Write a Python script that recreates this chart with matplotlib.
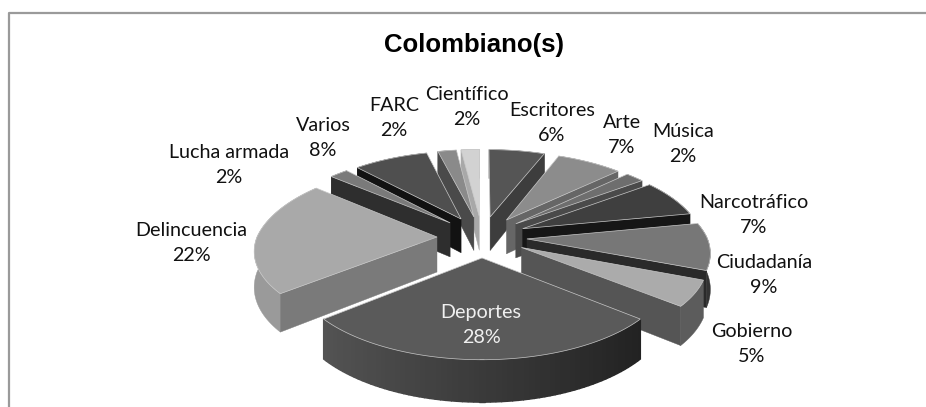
import matplotlib
matplotlib.use("Agg")
import matplotlib.pyplot as plt
import numpy as np

categories = ["Escritores", "Arte", "Música", "Narcotráfico", "Ciudadanía", "Gobierno",
              "Deportes", "Delincuencia", "Lucha armada", "Varios", "FARC", "Científico"]
values = [6, 7, 2, 7, 9, 5, 28, 22, 2, 8, 2, 2]

# grey per slice: top, radial walls, rim
top_colors = ["#555555", "#8c8c8c", "#6e6e6e", "#3f3f3f", "#777777", "#ababab",
              "#5a5a5a", "#a9a9a9", "#7a7a7a", "#4f4f4f", "#8a8a8a", "#d2d2d2"]
wall_colors = ["#3d3d3d", "#666666", "#4a4a4a", "#161616", "#2a2a2a", "#555555",
               "#4a4a4a", "#7a7a7a", "#2e2e2e", "#121212", "#4a4a4a", "#a8a8a8"]
rim_colors = ["#444444", "#6a6a6a", "#505050", "#1c1c1c", "#333333", "#5c5c5c",
              "#3a3a3a", "#9a9a9a", "#555555", "#222222", "#666666", "#b8b8b8"]

# label centres in pixels
label_x = [552, 622, 683, 754, 764, 752, 481, 191, 229, 323, 394, 467]
label_y = [123, 135, 144, 215, 275, 344, 325, 243, 165, 138, 118, 107]

CX, CY = 482, 237
RX = 180
RY_BACK, RY_FRONT = 85, 81
PERSP_BACK, PERSP_FRONT = 0.17, 0.14
EXPLODE = 0.25
DEPTH = 35


def project(x, y, z=0.0):
    # y grows towards the viewer, z is how far below the top surface
    k = PERSP_FRONT if y > 0 else PERSP_BACK
    ry = RY_FRONT if y > 0 else RY_BACK
    s = 1.0 / (1.0 - k * y)
    return CX + RX * x * s, CY + ry * y * s + z * DEPTH * s


def wedge_faces(a0, a1):
    mid = (a0 + a1) / 2
    ox, oy = EXPLODE * np.sin(mid), -EXPLODE * np.cos(mid)
    angles = np.linspace(a0, a1, max(int((a1 - a0) * 40), 6))
    return ox, oy, ox + np.sin(angles), oy - np.cos(angles)


def quad(p, q):
    return [project(*p), project(*q), project(q[0], q[1], 1), project(p[0], p[1], 1)]


fig = plt.figure(figsize=(9.26, 4.07), dpi=100)
ax = fig.add_axes([0, 0, 1, 1])
ax.set_xlim(0, 926)
ax.set_ylim(407, 0)
ax.axis("off")

# chart frame, cut off at the bottom and right of the crop
ax.plot([9, 9, 926], [407, 13, 13], color="#9a9a9a", lw=1.6)

edges = np.cumsum([0] + values) / sum(values) * 2 * np.pi
mids = (edges[:-1] + edges[1:]) / 2
order = np.argsort(-np.cos(mids))  # far slices first

for i in order:
    a0, a1 = edges[i], edges[i + 1]
    ox, oy, xs, ys = wedge_faces(a0, a1)
    if categories[i] == "Deportes":
        # rim of the big slice darkens from left to right
        for j in range(len(xs) - 1):
            t = 1 - (xs[j] + 0.8) / 1.6
            g = float(np.clip(0.13 + 0.2 * t, 0, 1))
            ax.fill(*zip(*quad((xs[j], ys[j]), (xs[j + 1], ys[j + 1]))), color=(g, g, g), lw=1.0)
    else:
        front = [project(x, y) for x, y in zip(xs, ys)]
        front += [project(x, y, 1) for x, y in zip(xs[::-1], ys[::-1])]
        ax.fill(*zip(*front), color=rim_colors[i], lw=0.3)
    # only the radial walls turned towards the viewer show
    if -np.cos(a0 - np.pi / 2) > 0:
        ax.fill(*zip(*quad((ox, oy), (xs[0], ys[0]))), color=wall_colors[i], lw=0.3)
    if -np.cos(a1 + np.pi / 2) > 0:
        ax.fill(*zip(*quad((ox, oy), (xs[-1], ys[-1]))), color=wall_colors[i], lw=0.3)
    top = [project(ox, oy)] + [project(x, y) for x, y in zip(xs, ys)]
    ax.fill(*zip(*top), facecolor=top_colors[i], edgecolor="#c8c8c8", lw=0.5)

ax.text(474, 45, "Colombiano(s)", ha="center", va="center", fontsize=18.5,
        fontweight="bold", family="Liberation Sans", color="black")

for name, val, x, y in zip(categories, values, label_x, label_y):
    col = "#f0f0f0" if name == "Deportes" else "#111111"
    ax.text(x, y, f"{name}\n{val}%", ha="center", va="center", fontsize=14.2,
            family="Lato", color=col, linespacing=1.6)

fig.savefig("out.png", dpi=100)
plt.close(fig)
